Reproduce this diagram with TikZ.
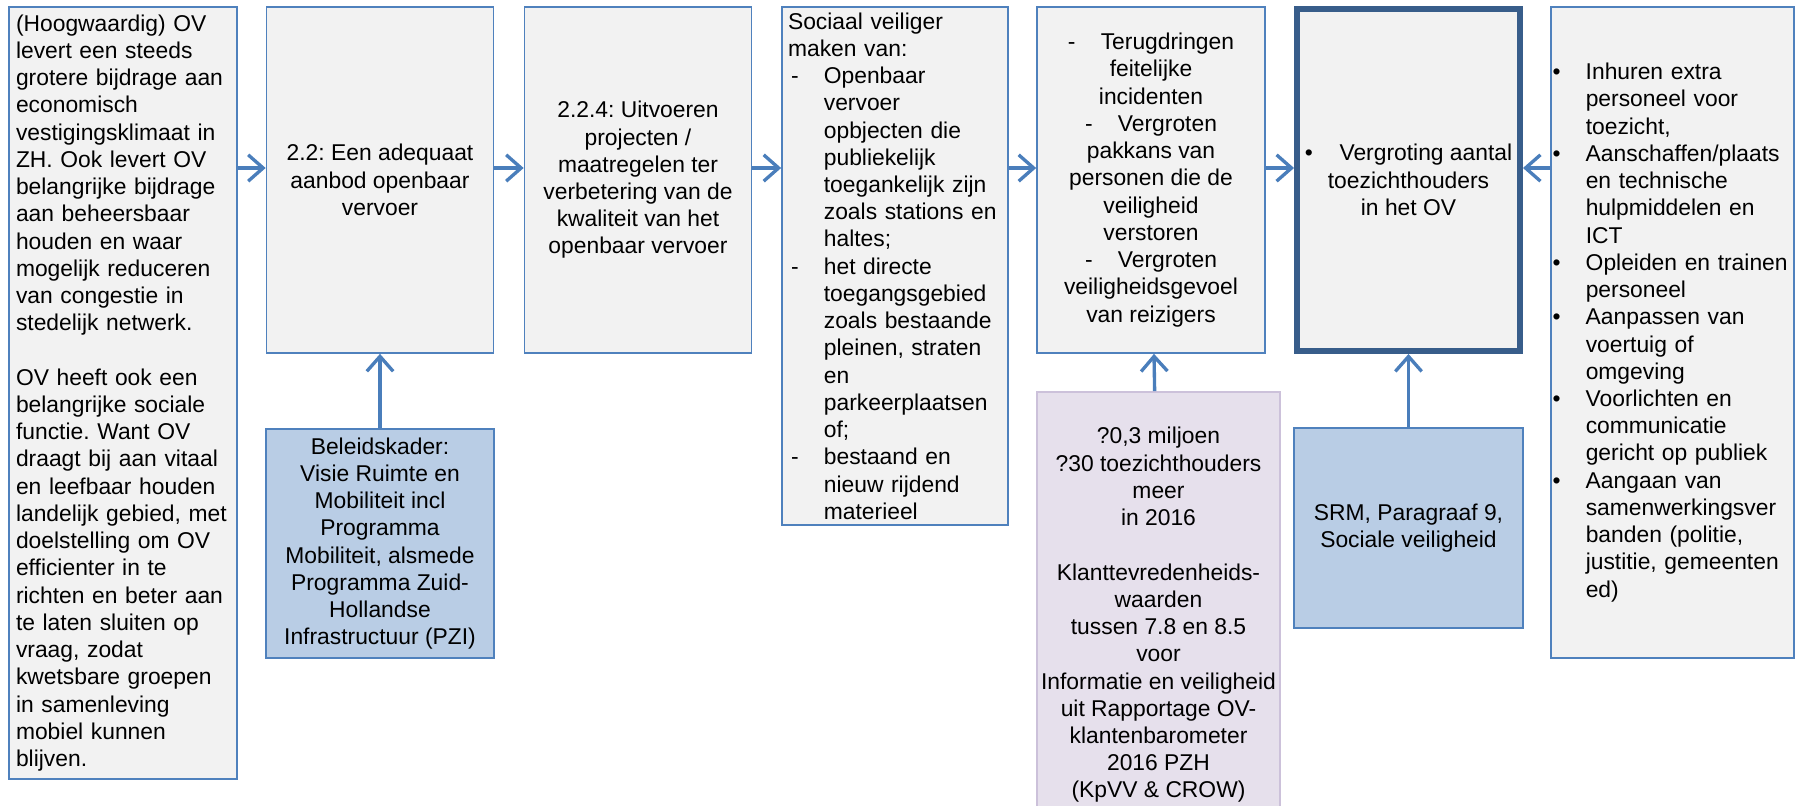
\documentclass[tikz,border=0pt]{standalone}
\usepackage{xcolor}
\usepackage{fontspec}
\setmainfont{Liberation Sans}
\usepackage{tikz}
\usetikzlibrary{arrows.meta}
\frenchspacing

\definecolor{boxblue}{HTML}{4F81BD}
\definecolor{darkblue}{HTML}{385D8A}
\definecolor{boxgray}{HTML}{F2F2F2}
\definecolor{srcblue}{HTML}{B9CDE5}
\definecolor{kpipurple}{HTML}{E6E0EC}
\definecolor{kpiedge}{HTML}{CCC1DA}
\definecolor{arrowblue}{HTML}{4A7EBB}

\newcommand{\lstdash}{\hspace*{1.7pt}\makebox[18.7pt][l]{-}}
\newcommand{\lstcont}{\hspace*{20.4pt}}
\newcommand{\lstbul}{\makebox[18.9pt][l]{\textbullet}}
\newcommand{\lstgap}{\hspace*{18.9pt}}
\newcommand{\cdash}{\makebox[18.7pt][l]{-}}

\begin{document}
\begin{tikzpicture}[
    x=0.02cm, y=-0.02cm,
    box/.style={rectangle, draw=boxblue, fill=boxgray, line width=1pt, inner sep=0pt, align=center, font=\fontsize{13}{15.5}\selectfont},
    srcbox/.style={box, fill=srcblue},
    kpibox/.style={box, draw=kpiedge, fill=kpipurple},
    arrow/.style={-{Straight Barb[length=8.5pt, width=15pt]}, line width=1.9pt, color=arrowblue}
]

% ==================== FRAME ====================
\useasboundingbox (0,0) rectangle (1797,805);
\clip (0,0) rectangle (1797,805);
\coordinate (row) at (0,168);

% ==================== CHAIN (Top row) ====================
% Nodes
\node[box, align=left, text width=4.28cm, inner xsep=0.14cm, minimum height=15.44cm] (ambition) at (123,393) {(Hoogwaardig) OV\\levert een steeds\\grotere bijdrage aan\\economisch\\vestigingsklimaat in\\ZH. Ook levert OV\\belangrijke bijdrage\\aan beheersbaar\\houden en waar\\mogelijk reduceren\\van congestie in\\stedelijk netwerk.\\\mbox{}\\OV heeft ook een\\belangrijke sociale\\functie. Want OV\\draagt bij aan vitaal\\en leefbaar houden\\landelijk gebied, met\\doelstelling om OV\\efficienter in te\\richten en beter aan\\te laten sluiten op\\vraag, zodat\\kwetsbare groepen\\in samenleving\\mobiel kunnen\\blijven.};
\node[box, minimum width=4.54cm, minimum height=6.92cm] (goal) at (380,180) {2.2: Een adequaat\\aanbod openbaar\\vervoer};
\node[box, minimum width=4.54cm, minimum height=6.92cm] (measure) at (638,180) {2.2.4: Uitvoeren\\projecten /\\maatregelen ter\\verbetering van de\\kwaliteit van het\\openbaar vervoer};
\node[box, align=left, text width=4.28cm, inner xsep=0.12cm, minimum height=10.36cm] (target) at (895,266) {Sociaal veiliger\\maken van:\\\lstdash Openbaar\\\lstcont vervoer\\\lstcont opbjecten die\\\lstcont publiekelijk\\\lstcont toegankelijk zijn\\\lstcont zoals stations en\\\lstcont haltes;\\\lstdash het directe\\\lstcont toegangsgebied\\\lstcont zoals bestaande\\\lstcont pleinen, straten\\\lstcont en\\\lstcont parkeerplaatsen\\\lstcont of;\\\lstdash bestaand en\\\lstcont nieuw rijdend\\\lstcont materieel};
\node[box, minimum width=4.56cm, minimum height=6.92cm] (effect) at (1151,180) {\cdash Terugdringen\\feitelijke\\incidenten\\\cdash Vergroten\\pakkans van\\personen die de\\veiligheid\\verstoren\\\cdash Vergroten\\veiligheidsgevoel\\van reizigers};
\node[box, draw=darkblue, line width=3.4pt, minimum width=4.46cm, minimum height=6.84cm] (output) at (1408.5,180) {\makebox[19.8pt][l]{\textbullet}Vergroting aantal\\toezichthouders\\in het OV};
\node[box, align=left, text width=4.8cm, inner xsep=0.03cm, minimum height=13.02cm] (activities) at (1672.5,332.5) {\lstbul Inhuren extra\\\lstgap personeel voor\\\lstgap toezicht,\\\lstbul Aanschaffen/plaats\\\lstgap en technische\\\lstgap hulpmiddelen en\\\lstgap ICT\\\lstbul Opleiden en trainen\\\lstgap personeel\\\lstbul Aanpassen van\\\lstgap voertuig of\\\lstgap omgeving\\\lstbul Voorlichten en\\\lstgap communicatie\\\lstgap gericht op publiek\\\lstbul Aangaan van\\\lstgap samenwerkingsver\\\lstgap banden (politie,\\\lstgap justitie, gemeenten\\\lstgap ed)};

% Arrows
\draw[arrow] (ambition.east |- row) -- (goal.west |- row);
\draw[arrow] (goal.east |- row) -- (measure.west |- row);
\draw[arrow] (measure.east |- row) -- (target.west |- row);
\draw[arrow] (target.east |- row) -- (effect.west |- row);
\draw[arrow] (effect.east |- row) -- (output.west |- row);
\draw[arrow] (activities.west |- row) -- (output.east |- row);

% ==================== SOURCES (Bottom row) ====================
% Nodes
\node[srcbox, minimum width=4.56cm, minimum height=4.58cm] (policy) at (380,543.5) {Beleidskader:\\Visie Ruimte en\\Mobiliteit incl\\Programma\\Mobiliteit, alsmede\\Programma Zuid-\\Hollandse\\Infrastructuur (PZI)};
\node[kpibox, minimum width=4.86cm, minimum height=8.92cm] (kpi) at (1158.5,615) {?0,3 miljoen\\?30 toezichthouders\\meer\\in 2016\\\mbox{}\\Klanttevredenheids-\\waarden\\tussen 7.8 en 8.5\\voor\\Informatie en veiligheid\\uit Rapportage OV-\\klantenbarometer\\2016 PZH\\(KpVV \& CROW)};
\node[srcbox, minimum width=4.58cm, minimum height=4.0cm] (srm) at (1408.5,528) {SRM, Paragraaf 9,\\Sociale veiligheid};

% Arrows
\draw[arrow] (policy) -- (goal);
\draw[arrow] (kpi) -- (effect);
\draw[arrow] (srm) -- (output);

\end{tikzpicture}
\end{document}
